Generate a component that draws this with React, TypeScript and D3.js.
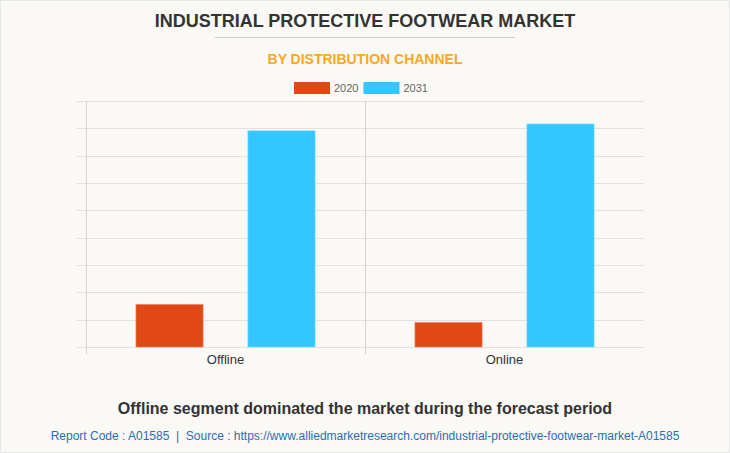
import React from "react";
import * as d3 from "d3";

const categories = ["Offline", "Online"];
const seriesNames = ["2020", "2031"];
const values2020 = [1.56, 0.9];
const values2031 = [7.91, 8.16];
const yTicks = [0, 1, 2, 3, 4, 5, 6, 7, 8, 9];
const colors = ["#e04816", "#33c6ff"];

const W = 730;
const H = 453;
const left = 86;
const right = 644;
const top = 101;
const bottom = 347;

export default function App() {
  const x0 = d3.scaleBand<string>().domain(categories).range([left, right]);
  const bw = x0.bandwidth();
  const x1 = d3
    .scaleBand<string>()
    .domain(seriesNames)
    .range([0, bw])
    .paddingInner(0.4)
    .paddingOuter(0.446);
  const y = d3.scaleLinear().domain([0, 9]).range([bottom, top]);
  const seriesValues = [values2020, values2031];
  const font = "'Liberation Sans', Arial, sans-serif";

  return (
    <div style={{ position: "absolute", left: 0, top: 0 }}>
      <svg width={W} height={H} style={{ display: "block" }} fontFamily={font}>
        <rect x={0.5} y={0.5} width={W - 1} height={H - 1} fill="#faf9f5" stroke="#e6e6e6" />
        <text x={365} y={27} textAnchor="middle" fontSize={18} fontWeight="bold" fill="#333">
          INDUSTRIAL PROTECTIVE FOOTWEAR MARKET
        </text>
        <line x1={215} x2={515} y1={37.5} y2={37.5} stroke="#cccccc" />
        <text x={365} y={64} textAnchor="middle" fontSize={14} fontWeight="bold" fill="#f9a825">
          BY DISTRIBUTION CHANNEL
        </text>
        {seriesNames.map((s, i) => {
          const lx = i === 0 ? 294 : 363.5;
          return (
            <g key={s}>
              <rect x={lx} y={82} width={36} height={12} fill={colors[i]} />
              <text x={lx + 40} y={92} fontSize={11} fill="#666">
                {s}
              </text>
            </g>
          );
        })}
        {yTicks.map((t) => (
          <line
            key={t}
            x1={77}
            x2={right}
            y1={Math.round(y(t)) + 0.5}
            y2={Math.round(y(t)) + 0.5}
            stroke="#e3e2de"
          />
        ))}
        {[left, ...categories.slice(1).map((c) => x0(c) as number)].map((vx, i) => (
          <line
            key={i}
            x1={Math.round(vx) + 0.5}
            x2={Math.round(vx) + 0.5}
            y1={top}
            y2={354}
            stroke="#d6d5d1"
          />
        ))}
        {categories.map((c, ci) => (
          <g key={c} transform={`translate(${x0(c)},0)`}>
            {seriesNames.map((s, si) => {
              const v = seriesValues[si][ci];
              return (
                <rect
                  key={s}
                  x={x1(s)}
                  y={y(v)}
                  width={x1.bandwidth()}
                  height={y(0) - y(v)}
                  fill={colors[si]}
                  stroke={si === 0 ? "#f08a6a" : "#7fdcff"}
                  strokeWidth={0.6}
                />
              );
            })}
            <text x={bw / 2} y={364} textAnchor="middle" fontSize={13} fill="#333">
              {c}
            </text>
          </g>
        ))}
        <text x={365} y={414} textAnchor="middle" fontSize={16} fontWeight="bold" fill="#333">
          Offline segment dominated the market during the forecast period
        </text>
        <text
          x={365}
          y={440}
          textAnchor="middle"
          fontSize={12}
          fill="#2b6cb8"
          style={{ whiteSpace: "pre" }}
        >
          {"Report Code : A01585  |  Source : https://www.alliedmarketresearch.com/industrial-protective-footwear-market-A01585"}
        </text>
      </svg>
    </div>
  );
}
